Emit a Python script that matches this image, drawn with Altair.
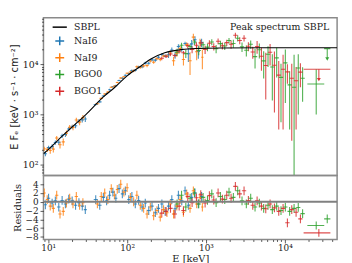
import altair as alt
import numpy as np
import pandas as pd

# ---------------- values ----------------
# SBPL model curve (E [keV], E F_E)
model_E = [8.7, 10, 15, 20, 30, 50, 70, 100, 150, 200, 300, 500, 800, 1500, 5000, 46000]
model_F = [165, 200, 370, 560, 1000, 2250, 3500, 5900, 9300, 12800, 17000, 19800, 20800, 21300, 21500, 21500]

# NaI6
E6 = [9.2, 10.1, 11.2, 12.3, 13.6, 15.0, 16.5, 18.2, 20.1, 22.2, 24.5, 27.0, 29.5,
      40, 45, 50, 55, 60, 66, 72, 79, 87, 95, 105, 115, 127, 140, 155, 170, 188, 207, 228, 250,
      276, 304, 335, 369, 406, 447, 493, 543, 598, 659, 726, 800, 880]
F6 = [165, 219, 230, 277, 279, 376, 399, 514, 571, 598, 735, 783, 812,
      1580, 1790, 2340, 2620, 3130, 3590, 3770, 4760, 5310, 6050, 6490, 7500, 7660, 8860, 9000, 10610, 10560, 12310, 12160, 13920,
      15710, 14760, 15580, 19400, 15190, 22770, 20170, 26000, 16240, 25630, 31050, 18200, 27170]
D6 = [18, 20, 24, 27, 32, 37, 42, 49, 56, 65, 75, 87, 99,
      62, 74, 90, 104, 118, 132, 146, 170, 198, 220, 378, 420, 474, 522, 582, 648, 720, 786, 858, 918,
      972, 1020, 2124, 2196, 2256, 2316, 2364, 2400, 5075, 5125, 5175, 5200, 5225]
R6 = [-0.7, 0.8, -0.3, 0.2, -1.2, 0.3, -0.5, 0.6, 0.2, -0.8, -0.2, -1.0, -1.8,
      0.5, -0.8, 1.0, 0.2, 1.5, 2.2, 0.8, 3.0, 1.8, 2.5, 0.5, 1.2, -0.5, 0.3, -1.2, -0.3, -2.0, -1.0, -2.5, -1.5,
      -0.5, -2.2, -1.0, 0.5, -1.6, 1.5, 0.2, 2.5, -0.8, 1.0, 2.0, -0.5, 1.2]

# NaI9
E9 = [8.9, 9.7, 10.6, 11.6, 12.8, 14.1, 15.5, 17.0, 18.7, 20.6, 22.7, 25.0, 27.5,
      42, 47, 52, 57, 63, 69, 75, 83, 91, 100, 110, 121, 133, 147, 162, 179, 197, 217, 239, 263,
      290, 320, 352, 388, 427, 470, 518, 570, 628, 692, 762, 840, 900]
F9 = [208, 202, 192, 204, 340, 250, 285, 425, 559, 555, 778, 705, 869,
      1640, 2100, 2570, 2800, 3490, 3690, 4340, 5340, 5660, 6660, 7050, 7450, 8990, 8760, 9330, 9490, 11690, 11070, 13020, 12480,
      14810, 14700, 16830, 11830, 16620, 20770, 12500, 24870, 11830, 35020, 17850, 26690, 13880]
D9 = [20, 23, 26, 30, 35, 40, 46, 53, 61, 71, 82, 94, 107,
      67, 80, 95, 110, 125, 139, 156, 184, 208, 236, 399, 447, 495, 552, 615, 684, 756, 822, 888, 948,
      996, 1038, 2340, 2418, 2483, 2535, 3000, 2620, 5712, 5768, 5810, 5838, 5852]
R9 = [2.0, 0.5, -1.0, -1.5, 1.5, -2.8, -2.2, -0.3, 0.8, -0.5, 1.2, -0.8, -0.2,
      -0.5, 1.2, 2.0, 0.5, 3.0, 1.5, 2.8, 4.0, 2.2, 3.2, 1.0, 0.0, 1.5, -0.8, -1.5, -2.8, -1.2, -3.2, -2.0, -3.5,
      -1.8, -2.5, -0.5, -2.8, -1.0, 0.5, -2.4, 1.8, -1.5, 2.5, -0.5, 1.0, -1.2]

# BGO0
EG = [430, 490, 555, 630, 715, 810, 920, 1045, 1185, 1345, 1525, 1730, 1960, 2225, 2525,
      2865, 3250, 3690, 4190, 4750, 5390, 6120, 6940, 7880, 8940, 10150, 11500, 13100, 14800, 16800]
FG = [17580, 24010, 16400, 22740, 27950, 18880, 24660, 22130, 27940, 20440, 25900, 23270, 29870, 26160, 33260,
      22450, 19140, 25280, 14300, 19550, 11750, 15900, 8900, 13500, 5500, 10700, 3900, 3500, 8500, 5300]
DG = [2850, 2940, 3000, 3045, 3700, 3735, 3762, 3780, 3798, 3816, 3834, 3843, 3852, 4717, 4721,
      4730, 4730, 4730, 6000, 6500, 6500, 7000, 7000, 8000, 4800, 9000, 3400, 12000, 7500, 3500]
RG = [-0.5, 1.5, -1.2, 0.8, 2.0, -0.5, 1.0, 0.3, 1.8, -0.2, 1.2, 0.5, 2.2, 1.0, 2.5,
      0.2, -0.5, 0.8, -1.2, -0.3, -1.5, -0.8, -1.8, -1.0, -2.0, -1.2, -2.2, -1.5, -1.3, -2.7]

# BGO1
ER = [275, 312, 355, 403, 457, 518, 588, 667, 757, 859, 975, 1105, 1255, 1425, 1615, 1835,
      2080, 2360, 2680, 3040, 3450, 3920, 4450, 5050, 5730, 6500, 7380, 8370, 9500, 10780, 12240, 13890, 15760]
FR = [13260, 14560, 16110, 15030, 17900, 17020, 23780, 19790, 24000, 26860, 19820, 26350, 22670, 28900, 23620, 27140,
      25190, 37970, 30010, 33330, 22920, 17720, 22800, 14500, 9500, 17500, 9600, 6100, 8000, 7100, 5300, 4700, 7000]
DR = [1130, 1200, 1260, 1310, 1350, 1390, 3022, 3060, 3717, 3753, 3771, 3789, 3807, 3825, 3838, 3847,
      4712, 4719, 4730, 4730, 4730, 4730, 6500, 7000, 7500, 8000, 8500, 5600, 7500, 3000, 5000, 4200, 3500]
RR = [-2.6, -2.2, -1.5, -2.8, -1.0, -2.0, 1.2, -0.2, 0.9, 1.6, -0.3, 1.4, 0.4, 2.0, 0.6, 1.5,
      0.8, 3.5, 1.8, 2.5, 0.3, -0.8, 0.2, -1.0, -1.6, -0.5, -1.4, -2.2, -1.5, -4.8, -1.8, -2.4, -3.9]

# wide high-energy bins (some are upper limits)
W_det = ["BGO0", "BGO0", "BGO1"]
W_E = [25000, 34500, 27000]
W_Elo = [19300, 31500, 17300]
W_Ehi = [31600, 37800, 37800]
W_F = [4050, 20600, 8000]
W_Flo = [1000, 20600, 8000]
W_Fhi = [8000, 20600, 8000]
W_UL = [False, True, True]
W_R = [-5.4, -3.9, -7.1]
W_Rerr = [0.9, 1.0, 0.9]

legend_names = ["SBPL", "NaI6", "NaI9", "BGO0", "BGO1"]
legend_colors = ["#000000", "#1f77b4", "#ff7f0e", "#2ca02c", "#d62728"]
annotation = ["Peak spectrum SBPL"]

x_ticks = [9, 10, 20, 30, 40, 50, 60, 70, 80, 90, 100, 200, 300, 400, 500, 600, 700, 800, 900,
           1000, 2000, 3000, 4000, 5000, 6000, 7000, 8000, 9000, 10000, 20000, 30000, 40000]
y_ticks = [70, 80, 90, 100, 200, 300, 400, 500, 600, 700, 800, 900, 1000, 2000, 3000, 4000, 5000,
           6000, 7000, 8000, 9000, 10000, 20000, 30000, 40000, 50000, 60000, 70000, 80000]
res_ticks = [-8, -6, -4, -2, 0, 2, 4]

# ---------------- tables ----------------
def build(det, E, F, D, R):
    E = np.asarray(E, float)
    lg = np.log10(E)
    d = np.diff(lg)
    prev = np.concatenate([[d[0]], d])
    nxt = np.concatenate([d, [d[-1]]])
    half = np.minimum(prev, nxt) / 2
    F = np.asarray(F, float)
    D = np.asarray(D, float)
    R = np.asarray(R, float)
    return pd.DataFrame({"det": det, "E": E, "Elo": 10 ** (lg - half), "Ehi": 10 ** (lg + half),
                         "F": F, "Flo": np.maximum(F - D, 1.0), "Fhi": F + D,
                         "R": R, "Rlo": R - 1, "Rhi": R + 1})

wide = pd.DataFrame({"det": W_det, "E": W_E, "Elo": W_Elo, "Ehi": W_Ehi, "F": W_F,
                     "Flo": W_Flo, "Fhi": W_Fhi, "R": W_R,
                     "Rlo": np.array(W_R) - np.array(W_Rerr), "Rhi": np.array(W_R) + np.array(W_Rerr)})
pts = pd.concat([build("NaI6", E6, F6, D6, R6), build("NaI9", E9, F9, D9, R9),
                 build("BGO0", EG, FG, DG, RG), wide.iloc[:2],
                 build("BGO1", ER, FR, DR, RR), wide.iloc[2:]], ignore_index=True)

ARROW = 0.62
ul = wide[np.array(W_UL)].copy()
ul["Fend"] = ul["F"] * ARROW

model = pd.DataFrame({"det": "SBPL", "E": model_E, "F": model_F})
note = pd.DataFrame({"t": annotation})

# ---------------- encodings ----------------
W, H1, H2 = 298, 160, 65
xs = alt.Scale(type="log", domain=[8.7, 46000], nice=False, clamp=True)
ys = alt.Scale(type="log", domain=[61, 85000], nice=False, clamp=True)
rs = alt.Scale(domain=[-8.6, 6], nice=False, clamp=True)
cscale = alt.Scale(domain=legend_names, range=legend_colors)
shapes = ["M-1.6,0H1.6", "M-1,0H1M0,-1V1", "M-1,0H1M0,-1V1", "M-1,0H1M0,-1V1", "M-1,0H1M0,-1V1"]
sscale = alt.Scale(domain=legend_names, range=shapes)

leg = alt.Legend(title=None, orient="none", legendX=11, legendY=4, padding=0,
                 labelFont="DejaVu Serif", labelFontSize=9.5, labelColor="#222",
                 symbolSize=81, symbolStrokeWidth=1.5, symbolOpacity=1,
                 symbolFillColor="transparent", labelOffset=9, rowPadding=2)
col_top = alt.Color("det:N", scale=cscale, legend=leg)
col_bot = alt.Color("det:N", scale=cscale, legend=None)

lab_expr = ("datum.value==10?'10¹':datum.value==100?'10²':datum.value==1000?'10³':"
            "datum.value==10000?'10⁴':''")
tick_cond = {"condition": {"test": "indexof([10,100,1000,10000], datum.value) >= 0", "value": 3.5},
             "value": 2}

x_axis_bot = alt.Axis(values=x_ticks, labelExpr=lab_expr, tickSize=tick_cond, title="E [keV]",
                      titlePadding=1, labelPadding=1, labelOverlap=False, labelFontSize=9)
y_axis_top = alt.Axis(values=y_ticks, labelExpr=lab_expr, tickSize=tick_cond,
                      title="E Fₑ [keV · s⁻¹ · cm⁻²]", titleFont="DejaVu Sans", titlePadding=3,
                      labelPadding=2, labelOverlap=False)
y_axis_bot = alt.Axis(values=res_ticks, tickSize=3.5, title="Residuals", titlePadding=3,
                      labelPadding=2, labelOverlap=False, labelFontSize=9)

OP = 0.82
SW = 1.1
base = alt.Chart(pts)

v_top = base.mark_rule(opacity=OP, strokeWidth=SW, clip=True).encode(
    x=alt.X("E:Q", scale=xs, axis=None),
    y=alt.Y("Flo:Q", scale=ys, axis=y_axis_top), y2="Fhi:Q", color=col_top)
h_top = base.mark_rule(opacity=OP, strokeWidth=SW, clip=True).encode(
    x=alt.X("Elo:Q", scale=xs, axis=None), x2="Ehi:Q",
    y=alt.Y("F:Q", scale=ys, axis=y_axis_top), color=col_top)
ul_line = alt.Chart(ul).mark_rule(opacity=OP, strokeWidth=SW, clip=True).encode(
    x=alt.X("E:Q", scale=xs, axis=None),
    y=alt.Y("F:Q", scale=ys, axis=y_axis_top), y2="Fend:Q", color=col_top)
ul_head = alt.Chart(ul).mark_point(shape="triangle-down", filled=True, size=16, opacity=0.9, clip=True).encode(
    x=alt.X("E:Q", scale=xs, axis=None),
    y=alt.Y("Fend:Q", scale=ys, axis=y_axis_top), color=col_top)
line = alt.Chart(model).mark_line(strokeWidth=1.1, clip=True, interpolate="monotone").encode(
    x=alt.X("E:Q", scale=xs, axis=None),
    y=alt.Y("F:Q", scale=ys, axis=y_axis_top), color=col_top)
legpts = base.mark_point(opacity=0, size=1).encode(
    x=alt.X("E:Q", scale=xs, axis=None),
    y=alt.Y("F:Q", scale=ys, axis=y_axis_top), color=col_top,
    shape=alt.Shape("det:N", scale=sscale, legend=leg))
txt = alt.Chart(note).mark_text(align="right", baseline="alphabetic", font="DejaVu Serif",
                                fontSize=9.5, color="#222").encode(
    x=alt.value(W - 8), y=alt.value(12), text="t:N")

top = alt.layer(v_top, h_top, ul_line, ul_head, line, legpts, txt).properties(width=W, height=H1)

v_bot = base.mark_rule(opacity=OP, strokeWidth=SW, clip=True).encode(
    x=alt.X("E:Q", scale=xs, axis=x_axis_bot),
    y=alt.Y("Rlo:Q", scale=rs, axis=y_axis_bot), y2="Rhi:Q", color=col_bot)
h_bot = base.mark_rule(opacity=OP, strokeWidth=SW, clip=True).encode(
    x=alt.X("Elo:Q", scale=xs, axis=x_axis_bot), x2="Ehi:Q",
    y=alt.Y("R:Q", scale=rs, axis=y_axis_bot), color=col_bot)
zero = alt.Chart(note).mark_rule(color="#808080", strokeWidth=2).encode(
    y=alt.Y(datum=0, scale=rs, axis=y_axis_bot))

bottom = alt.layer(v_bot, h_bot, zero).properties(width=W, height=H2)

chart = alt.vconcat(top, bottom, spacing=0, bounds="flush").resolve_scale(
    color="independent", shape="independent", x="independent", y="independent"
).properties(padding={"left": 0, "top": 3, "right": 5, "bottom": 0}).configure_view(
    stroke="#8a8a8a", strokeWidth=1.5
).configure_axis(
    domain=False, grid=False, labelFont="DejaVu Serif", labelFontSize=9.5, labelColor="#222",
    titleFont="DejaVu Serif", titleFontSize=10, titleFontWeight="normal", titleColor="#222",
    tickColor="#333", tickWidth=0.8
)

chart.save("out.html", embed_options={"renderer": "svg", "actions": False})
